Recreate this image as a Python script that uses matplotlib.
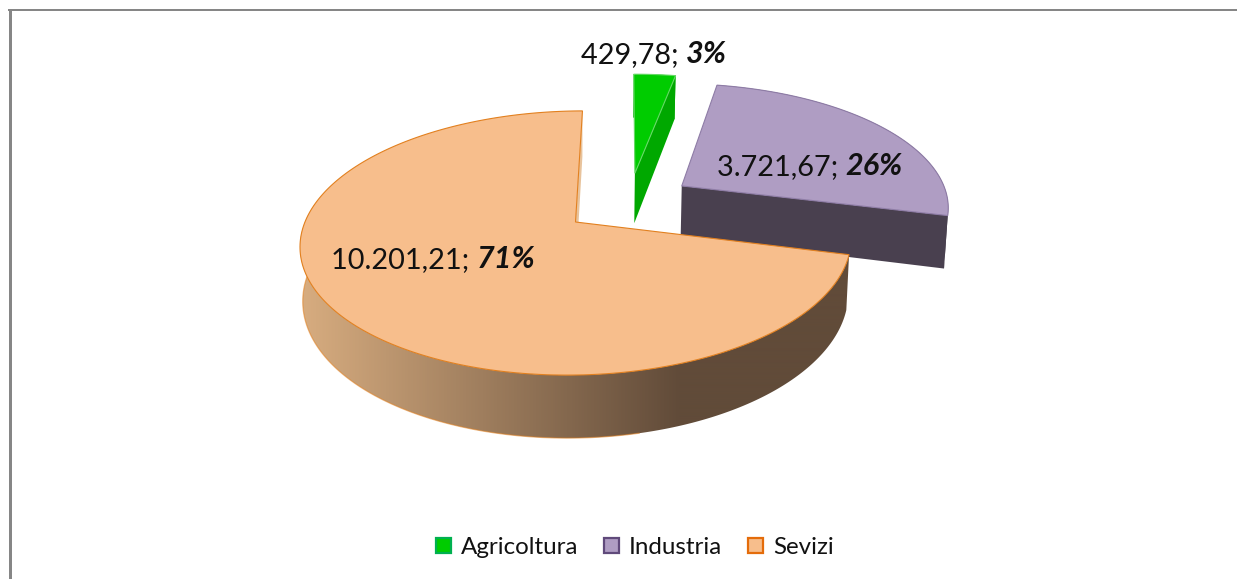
import numpy as np
import matplotlib
matplotlib.use("Agg")
import matplotlib.pyplot as plt
from matplotlib.patches import Polygon, Patch
from matplotlib.colors import LinearSegmentedColormap

categories = ["Agricoltura", "Industria", "Sevizi"]
values = [429.78, 3721.67, 10201.21]
value_labels = ["429,78;", "3.721,67;", "10.201,21;"]
percent_labels = ["3%", "26%", "71%"]

# colori (top, parete, bordo)
top_colors = ["#00CC00", "#AF9DC3", "#F7BE8C"]
wall_colors = ["#00A800", "#49404F", "#654E3A"]
edge_colors = ["#66D966", "#8E7CA6", "#E2801F"]
legend_edges = ["#00B050", "#604A7B", "#E46C0A"]

# proiezione prospettica del disco
CX, CY = 575.5, 222.0
RX, RY = 272.0, 128.7
PERSP = 0.159
TILT = 4.0
DEPTH = 53.0
BOTTOM_SCALE = 0.99
START_ANGLE = 88.3
# esplosione di ogni fetta sul piano del disco
EXPLODE = [(0.232, 0.395), (0.408, 0.28), (0.0, 0.0)]


def project(x, y, bottom=False):
    w = 1 + PERSP * y
    sy = CY - (RY * y + TILT * x) / w
    if bottom:
        return CX + BOTTOM_SCALE * RX * x / w, sy + DEPTH / w
    return CX + RX * x / w, sy


def slice_points(a0, a1, offset, bottom=False):
    t = np.radians(np.linspace(a0, a1, 240))
    xs = np.cos(t) + offset[0]
    ys = np.sin(t) + offset[1]
    px, py = project(xs, ys, bottom)
    return np.column_stack([px, py])


fig = plt.figure(figsize=(12.37, 5.79), dpi=100)
ax = fig.add_axes([0, 0, 1, 1])

# cornice
ax.plot([9.5, 9.5], [9, 579], color="#868686", lw=2.16, solid_capstyle="butt")
ax.plot([8, 1237], [10, 10], color="#868686", lw=1.44, solid_capstyle="butt")

total = sum(values)
sweeps = [v / total * 360 for v in values]
shade = LinearSegmentedColormap.from_list("shade", ["#D8AD80", "#614B39"])

angle = START_ANGLE
for i in range(len(values)):
    a0 = angle
    a1 = angle - sweeps[i]
    angle = a1
    off = EXPLODE[i]
    top_arc = slice_points(a0, a1, off)
    bot_arc = slice_points(a0, a1, off, bottom=True)
    apex_top = np.array(project(off[0], off[1]))
    apex_bot = np.array(project(off[0], off[1], True))

    if i == 2:
        # parete radiale appena visibile
        ax.add_patch(Polygon([apex_top, top_arc[-1], bot_arc[-1], apex_bot], closed=True,
                             fc="#E8C39C", ec="none", zorder=i * 3 + 1))
        # parete esterna con sfumatura, solo la parte davanti
        front_top = slice_points(a0, -190, off)
        front_bot = slice_points(a0, -190, off, bottom=True)
        wall = Polygon(np.vstack([front_top, front_bot[::-1]]), closed=True,
                       fc="none", ec="none", transform=ax.transData)
        ax.add_patch(wall)
        grad = np.clip((np.arange(299, 860) - 299) / (680 - 299), 0, 1).reshape(1, -1)
        im = ax.imshow(grad, cmap=shade, vmin=0, vmax=1, extent=(299, 860, 460, 200),
                       aspect="auto", zorder=i * 3 + 2, interpolation="bilinear")
        im.set_clip_path(wall)
        low = front_bot[:, 0] < 640
        ax.plot(front_bot[low, 0], front_bot[low, 1], color=edge_colors[i], lw=0.9, alpha=0.55,
                zorder=i * 3 + 2)
    else:
        # parete radiale destra
        ax.add_patch(Polygon([apex_top, top_arc[-1], bot_arc[-1], apex_bot], closed=True,
                             fc=wall_colors[i], ec="none", zorder=i * 3 + 1))
        # parete esterna
        ax.add_patch(Polygon(np.vstack([top_arc, bot_arc[::-1]]), closed=True,
                             fc=wall_colors[i], ec="none", zorder=i * 3 + 2))

    # faccia superiore
    ax.add_patch(Polygon(np.vstack([apex_top, top_arc]), closed=True, fc=top_colors[i],
                         ec=edge_colors[i], lw=0.8, zorder=i * 3 + 3))

ax.set_xlim(0, 1237)
ax.set_ylim(579, 0)
ax.axis("off")

# etichette
label_pos = [(581, 63), (717, 175), (331, 268)]
renderer = fig.canvas.get_renderer()
for i in range(len(values)):
    t = ax.text(label_pos[i][0], label_pos[i][1], value_labels[i] + " ", family="Lato",
                fontsize=20.8, color="#111111", va="baseline", ha="left", zorder=20)
    x1 = t.get_window_extent(renderer).x1
    ax.text(x1, label_pos[i][1], percent_labels[i], family="Lato", fontsize=22, weight="bold",
            style="italic", color="#111111", va="baseline", ha="left", zorder=20)

handles = [Patch(fc=top_colors[i], ec=legend_edges[i], lw=1.6) for i in range(len(categories))]
ax.legend(handles, categories, ncol=3, frameon=False, loc="center", bbox_to_anchor=(635 / 1237, 1 - 547.5 / 579),
          prop={"family": "Lato", "size": 17.4}, handlelength=0.62, handleheight=0.62,
          handletextpad=0.4, columnspacing=1.07, borderpad=0, labelcolor="#111111")

fig.savefig("out.png", dpi=100)
